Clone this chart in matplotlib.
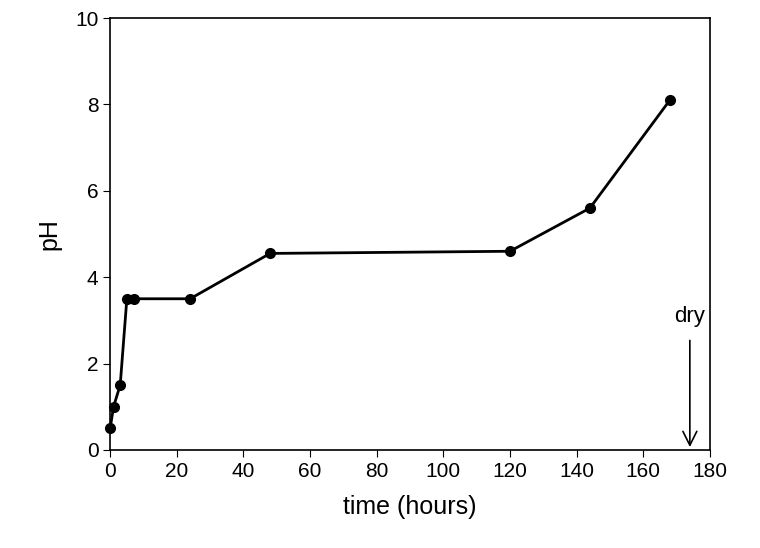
import matplotlib.pyplot as plt

time_h = [0, 1, 3, 5, 7, 24, 48, 120, 144, 168]
ph = [0.5, 1.0, 1.5, 3.5, 3.5, 3.5, 4.55, 4.6, 5.6, 8.1]
dry_time = 174

plt.rcParams['font.family'] = ['Liberation Sans', 'DejaVu Sans']

fig = plt.figure(figsize=(7.6, 5.48), dpi=100)
ax = fig.add_axes([0.145, 0.179, 0.789, 0.788])
ax.plot(time_h, ph, color='black', lw=2, marker='o', ms=7, clip_on=False, zorder=3)

ax.annotate('', xy=(dry_time, 0), xytext=(dry_time, 2.6),
            arrowprops=dict(arrowstyle='->', color='black', lw=1.2, mutation_scale=25))
ax.text(dry_time, 2.85, 'dry', ha='center', va='bottom', fontsize=16)

ax.set_xlim(0, 180)
ax.set_ylim(0, 10)
ax.set_xticks(range(0, 181, 20))
ax.set_yticks(range(0, 11, 2))
ax.tick_params(labelsize=15, direction='out', length=5)
ax.set_xlabel('time (hours)', fontsize=18, labelpad=10)
ax.set_ylabel('pH', fontsize=18, labelpad=10)
for s in ax.spines.values():
    s.set_linewidth(1.2)

plt.savefig('out.png')
plt.close()
